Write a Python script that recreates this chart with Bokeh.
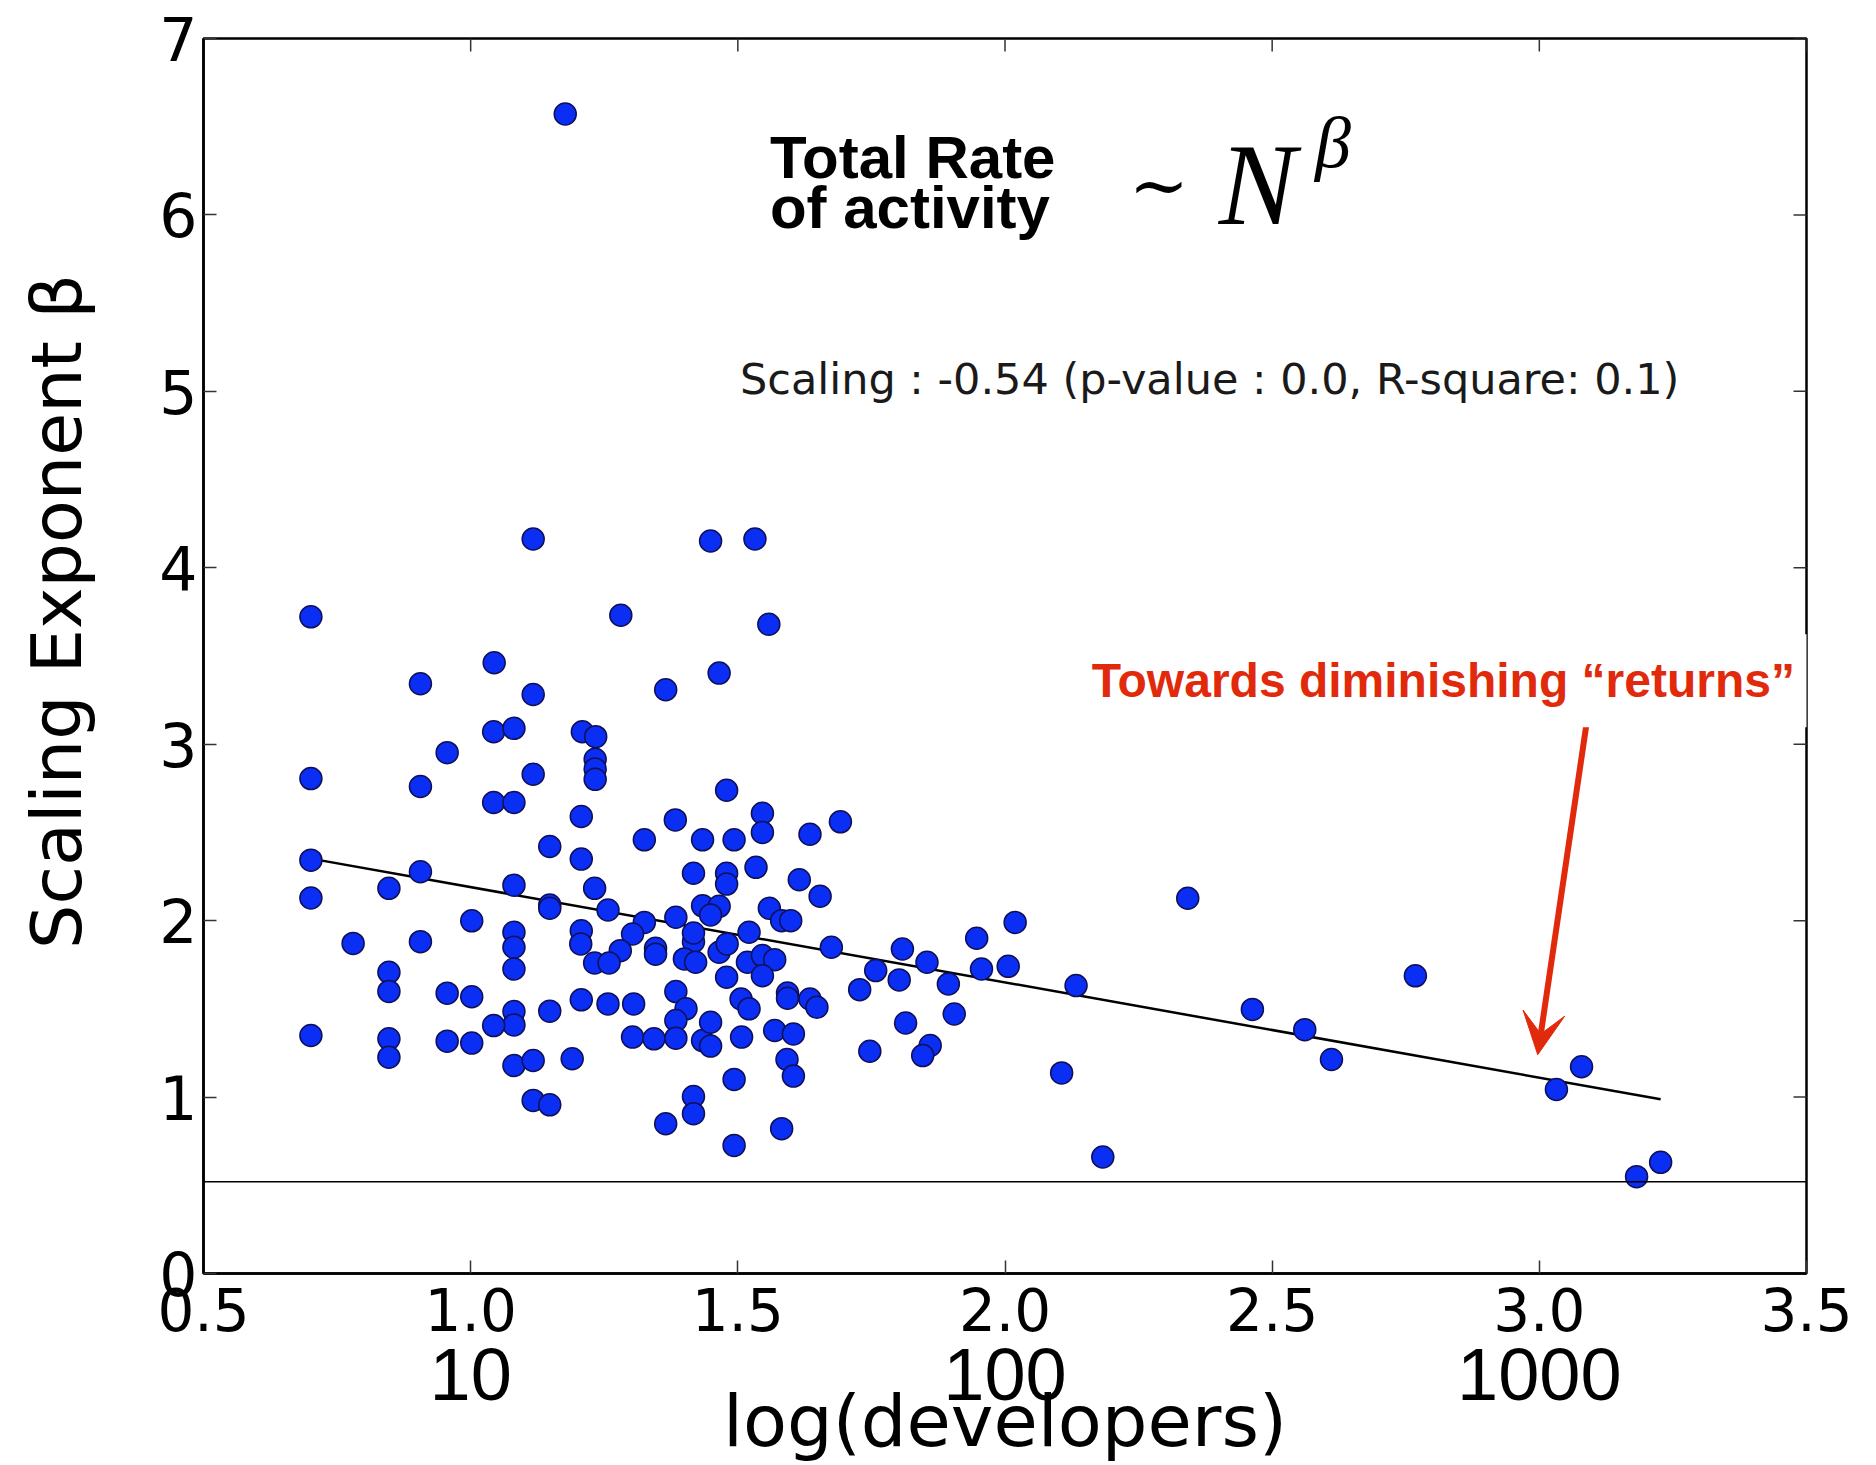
import numpy as np
from bokeh.plotting import figure
from bokeh.models import (Range1d, LinearAxis, FixedTicker, Label,
                          ColumnDataSource, Span, Arrow, VeeHead, PrintfTickFormatter)
from bokeh.embed import file_html
from bokeh.resources import INLINE

# ---------------- data ----------------
log_developers = [
    1.117, 0.701, 1.044, 0.906, 1.117, 1.043, 1.081, 0.956, 0.701, 0.906, 1.117, 1.043, 1.081,
    1.449, 1.532, 1.281, 1.558, 1.465, 1.365, 1.209, 1.234, 1.233, 1.233, 1.233, 1.479,
    1.148, 0.701, 0.906, 0.847, 1.081, 0.701, 1.148, 1.148, 1.002, 1.081, 1.081, 0.780, 0.906,
    1.081, 0.847, 0.847, 0.956, 1.002, 1.148, 1.081, 1.081, 1.043, 0.701, 0.847, 0.847, 0.956,
    1.002, 1.081, 1.117, 1.190, 1.117, 1.148,
    1.207, 1.383, 1.546, 1.546, 1.692, 1.325, 1.434, 1.493, 1.635, 1.207, 1.417, 1.479, 1.479,
    1.534, 1.615, 1.654, 1.232, 1.257, 1.434, 1.465, 1.449, 1.559, 1.582, 1.599, 1.384, 1.325,
    1.303, 1.207, 1.206, 1.280, 1.232, 1.259, 1.346, 1.346, 1.417, 1.417, 1.400, 1.421, 1.465,
    1.480, 1.521, 1.518, 1.546, 1.569, 1.546, 1.479, 1.675, 1.728, 1.758, 1.207, 1.257, 1.305,
    1.384, 1.403, 1.384, 1.303, 1.343, 1.384, 1.434, 1.449, 1.449, 1.506, 1.521, 1.507, 1.593,
    1.593, 1.635, 1.648, 1.569, 1.604, 1.592, 1.604, 1.493, 1.747, 1.417, 1.417, 1.365, 1.582,
    1.493,
    2.019, 1.947, 1.808, 1.854, 1.802, 1.894, 1.956, 2.006, 2.133, 1.905, 1.814, 1.860, 1.846,
    2.106, 2.183,
    1.177, 2.342, 2.463, 2.561, 2.611, 2.768, 3.032, 3.079, 3.182, 3.227,
]
scaling_exponent = [
    4.163, 3.722, 3.462, 3.343, 3.282, 3.071, 3.090, 2.952, 2.805, 2.760, 2.830, 2.670, 2.670,
    4.152, 4.163, 3.731, 3.680, 3.403, 3.309, 3.071, 3.043, 2.915, 2.860, 2.801, 2.739,
    2.420, 2.343, 2.277, 2.183, 2.201, 2.128, 2.088, 2.070, 1.999, 1.934, 1.849, 1.871, 1.881,
    1.726, 1.707, 1.599, 1.589, 1.569, 1.487, 1.485, 1.409, 1.405, 1.349, 1.330, 1.226, 1.317,
    1.306, 1.179, 1.207, 1.217, 0.981, 0.956,
    2.590, 2.571, 2.609, 2.500, 2.560, 2.458, 2.458, 2.458, 2.490, 2.349, 2.269, 2.269, 2.207,
    2.302, 2.232, 2.138, 2.183, 2.060, 2.084, 2.081, 2.032, 2.070, 2.000, 2.000, 2.019, 1.990,
    1.924, 1.943, 1.868, 1.830, 1.760, 1.760, 1.843, 1.810, 1.880, 1.930, 1.783, 1.764, 1.821,
    1.868, 1.934, 1.764, 1.802, 1.779, 1.688, 1.679, 1.849, 1.609, 1.717, 1.551, 1.528, 1.528,
    1.598, 1.500, 1.434, 1.340, 1.330, 1.334, 1.320, 1.289, 1.424, 1.556, 1.500, 1.340, 1.590,
    1.560, 1.556, 1.509, 1.377, 1.358, 1.213, 1.119, 1.100, 1.260, 1.003, 0.906, 0.849, 0.821,
    0.726,
    1.990, 1.900, 1.839, 1.764, 1.664, 1.641, 1.726, 1.741, 1.632, 1.471, 1.420, 1.292, 1.235,
    1.137, 0.660,
    6.572, 2.127, 1.497, 1.382, 1.213, 1.687, 1.043, 1.172, 0.549, 0.630,
]
fit_slope = -0.54
fit_intercept = 2.73
reference_level = 0.52
x_ticks = [0.5, 1.0, 1.5, 2.0, 2.5, 3.0, 3.5]
y_ticks = [0, 1, 2, 3, 4, 5, 6, 7]
developer_counts = [10, 100, 1000]
arrow_from = (3.088, 3.11)
arrow_to = (2.997, 1.24)

RED = "#e12a0c"
BLUE = "#0b2ef5"
X_MIN, X_MAX, Y_MIN, Y_MAX = 0.5, 3.5, 0, 7

p = figure(width=1876, height=1465, output_backend="svg", toolbar_location=None,
           x_range=Range1d(X_MIN, X_MAX), y_range=Range1d(Y_MIN, Y_MAX),
           min_border_left=203, min_border_right=70, min_border_top=38,
           min_border_bottom=190, background_fill_color="white",
           border_fill_color="white")
p.grid.visible = False
p.outline_line_color = "black"
p.outline_line_width = 2.5

tick_style = dict(major_tick_in=13, major_tick_out=0, minor_tick_line_color=None,
                  major_tick_line_color="#333333", major_tick_line_width=1.5)

xa = p.xaxis[0]
xa.ticker = FixedTicker(ticks=x_ticks)
xa.formatter = PrintfTickFormatter(format="%.1f")
xa.major_label_text_font = "DejaVu Sans"
xa.major_label_text_font_size = "58px"
xa.major_label_text_color = "black"
xa.major_label_standoff = 14
xa.axis_line_color = "black"
xa.axis_line_width = 2.5
for k, v in tick_style.items():
    setattr(xa, k, v)

# second row of x labels: number of developers
count_ticks = [float(np.round(np.log10(c), 6)) for c in developer_counts]
count_axis = LinearAxis(
    ticker=FixedTicker(ticks=count_ticks),
    major_label_overrides={t: str(c) for t, c in zip(count_ticks, developer_counts)},
    major_tick_in=0, major_tick_out=0, minor_tick_line_color=None,
    axis_line_color=None, major_label_text_font="Liberation Sans",
    major_label_text_font_size="74px", major_label_text_color="black",
    major_label_standoff=15,
    axis_label="log(developers)", axis_label_text_font="DejaVu Sans",
    axis_label_text_font_style="normal", axis_label_text_font_size="72px",
    axis_label_text_color="black", axis_label_standoff=-24)
p.add_layout(count_axis, "below")

ya = p.yaxis[0]
ya.ticker = FixedTicker(ticks=y_ticks)
ya.formatter = PrintfTickFormatter(format="%d")
ya.major_label_text_font = "DejaVu Sans"
ya.major_label_text_font_size = "60px"
ya.major_label_text_color = "black"
ya.major_label_standoff = 6
ya.axis_line_color = "black"
ya.axis_line_width = 2.5
ya.axis_label = "\u00a0\u00a0\u00a0\u00a0Scaling Exponent β"
ya.axis_label_text_font = "DejaVu Sans"
ya.axis_label_text_font_style = "normal"
ya.axis_label_text_font_size = "70px"
ya.axis_label_text_color = "black"
ya.axis_label_standoff = 58
for k, v in tick_style.items():
    setattr(ya, k, v)

# inward tick marks on the top and right frame edges
p.scatter(x_ticks, [Y_MAX] * len(x_ticks), marker="dash", size=26, angle=np.pi / 2,
          line_color="#333333", line_width=1.5)
p.scatter([X_MAX] * len(y_ticks), y_ticks, marker="dash", size=26,
          line_color="#333333", line_width=1.5)

# threshold line
p.add_layout(Span(location=reference_level, dimension="width", line_color="black",
                  line_width=1.3))

# regression line
fx = np.array([min(log_developers), max(log_developers)])
p.line(fx, fit_intercept + fit_slope * fx, line_color="black", line_width=2.5)

# scatter
src = ColumnDataSource(dict(x=log_developers, y=scaling_exponent))
p.scatter("x", "y", source=src, size=22, fill_color=BLUE, line_color="#101058",
          line_width=1.5)

# annotations
p.add_layout(Label(x=1.560, y=6.325, text="Total Rate", text_font="Liberation Sans",
                   text_font_style="bold", text_font_size="60px", text_color="black",
                   text_baseline="alphabetic"))
p.add_layout(Label(x=1.560, y=6.04, text="of activity", text_font="Liberation Sans",
                   text_font_style="bold", text_font_size="60px", text_color="black",
                   text_baseline="alphabetic"))
p.add_layout(Label(x=2.288, y=6.17, text="∼", text_font="DejaVu Serif",
                   text_font_size="72px", text_color="black", text_align="center",
                   text_baseline="alphabetic"))
p.add_layout(Label(x=2.40, y=6.17, text="N", text_font="Liberation Serif",
                   text_font_style="italic", text_font_size="116px", text_color="black",
                   text_baseline="alphabetic"))
p.add_layout(Label(x=2.58, y=6.41, text="β", text_font="Liberation Serif",
                   text_font_style="italic", text_font_size="72px", text_color="black",
                   text_baseline="alphabetic"))
p.add_layout(Label(x=1.504, y=5.07, text="Scaling : -0.54 (p-value : 0.0, R-square: 0.1)",
                   text_font="DejaVu Sans", text_font_size="43px",
                   text_color="#1a1a1a", text_baseline="alphabetic"))

p.add_layout(Arrow(end=VeeHead(size=42, fill_color=RED, line_color=RED, line_width=1),
                   x_start=arrow_from[0], y_start=arrow_from[1],
                   x_end=arrow_to[0], y_end=arrow_to[1],
                   line_color=RED, line_width=6))
p.add_layout(Label(x=2.125, y=3.36, text="Towards diminishing “returns”",
                   text_font="Liberation Sans", text_font_style="bold",
                   text_font_size="48px", text_color=RED, text_baseline="alphabetic",
                   background_fill_color="white", padding=20))

open("out.html", "w").write(file_html(p, INLINE))
